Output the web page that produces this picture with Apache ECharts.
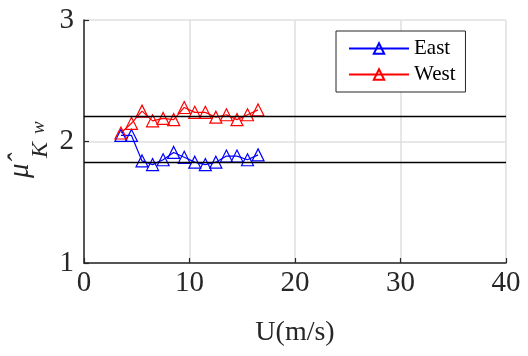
<!DOCTYPE html>
<html>
<head>
<meta charset="utf-8">
<script src="https://cdn.jsdelivr.net/npm/echarts@6/dist/echarts.min.js"></script>
<style>html,body{margin:0;padding:0;background:#fff}#c{width:528px;height:356px}</style>
</head>
<body>
<div id="c"></div>
<script>
var windSpeed = [3.5, 4.5, 5.5, 6.5, 7.5, 8.5, 9.5, 10.5, 11.5, 12.5, 13.5, 14.5, 15.5, 16.5];
var eastValues = [2.05, 2.05, 1.84, 1.81, 1.85, 1.91, 1.87, 1.83, 1.81, 1.83, 1.88, 1.88, 1.85, 1.89];
var westValues = [2.07, 2.15, 2.25, 2.17, 2.19, 2.18, 2.28, 2.24, 2.24, 2.20, 2.22, 2.18, 2.22, 2.26];
var refLevels = [2.21, 1.83];
var seriesNames = ['East', 'West'];
var xTicks = [0, 10, 20, 30, 40];
var yTicks = [1, 2, 3];

function pairs(xs, ys) { return xs.map(function (x, i) { return [x, ys[i]]; }); }
var font = 'Liberation Serif';
var axisColor = '#262626';

var chart = echarts.init(document.getElementById('c'), null, { renderer: 'canvas' });
function mkSeries(name, vals, color, withRef) {
  var s = {
    name: name, type: 'line', data: pairs(windSpeed, vals),
    symbol: 'triangle', symbolSize: 12, showAllSymbol: true,
    lineStyle: { color: color, width: 1.2 },
    itemStyle: { color: 'rgba(255,255,255,0)', borderColor: color, borderWidth: 1.2 },
    emphasis: { disabled: true }, animation: false, z: 3
  };
  if (withRef) {
    s.markLine = {
      silent: true, symbol: 'none', animation: false,
      label: { show: false },
      lineStyle: { color: '#000', width: 1.3, type: 'solid' },
      data: refLevels.map(function (v) { return { yAxis: v }; })
    };
  }
  return s;
}
function t(text, x, y, size, italic) {
  return { type: 'text', silent: true, z: 10, style: {
    text: text, x: x, y: y, fill: axisColor,
    fontFamily: font, fontSize: size, fontStyle: italic ? 'italic' : 'normal',
    verticalAlign: 'bottom', align: 'left' } };
}
chart.setOption({
  animation: false,
  backgroundColor: '#fff',
  textStyle: { fontFamily: font },
  grid: { left: 84, right: 22, top: 20, bottom: 93 },
  xAxis: {
    type: 'value', min: xTicks[0], max: xTicks[xTicks.length - 1], interval: 10,
    name: 'U(m/s)', nameLocation: 'middle', nameGap: 56,
    nameTextStyle: { fontFamily: font, fontSize: 28, color: axisColor },
    axisLine: { lineStyle: { color: axisColor, width: 1.5 } },
    axisTick: { inside: true, length: 5, lineStyle: { color: axisColor, width: 1.2 } },
    axisLabel: { fontFamily: font, fontSize: 29, color: axisColor, margin: 6 },
    splitLine: { show: true, lineStyle: { color: '#dfdfdf', width: 1.5 } }
  },
  yAxis: {
    type: 'value', min: yTicks[0], max: yTicks[yTicks.length - 1], interval: 1,
    axisLine: { show: true, lineStyle: { color: axisColor, width: 1.5 } },
    axisTick: { show: true, inside: true, length: 5, lineStyle: { color: axisColor, width: 1.2 } },
    axisLabel: { fontFamily: font, fontSize: 29, color: axisColor, margin: 10 },
    splitLine: { show: true, lineStyle: { color: '#dfdfdf', width: 1.5 } }
  },
  graphic: [{
    type: 'group', x: 0, y: 183, rotation: Math.PI / 2,
    children: [
      t('μ\u0302', 5, 35, 29, true),
      t('K', 25, 53, 24, true),
      t('w', 49, 48, 19, true)
    ]
  }],
  legend: {
    orient: 'vertical', left: 336, top: 31,
    padding: [7, 10, 7, 12], itemGap: 5,
    itemWidth: 60, itemHeight: 13,
    backgroundColor: '#fff', borderColor: axisColor, borderWidth: 1,
    textStyle: { fontFamily: font, fontSize: 21, color: '#000', lineHeight: 20 },
    data: seriesNames
  },
  series: [
    mkSeries(seriesNames[0], eastValues, '#0000ff', true),
    mkSeries(seriesNames[1], westValues, '#ff0000', false)
  ]
});
</script>
</body>
</html>
